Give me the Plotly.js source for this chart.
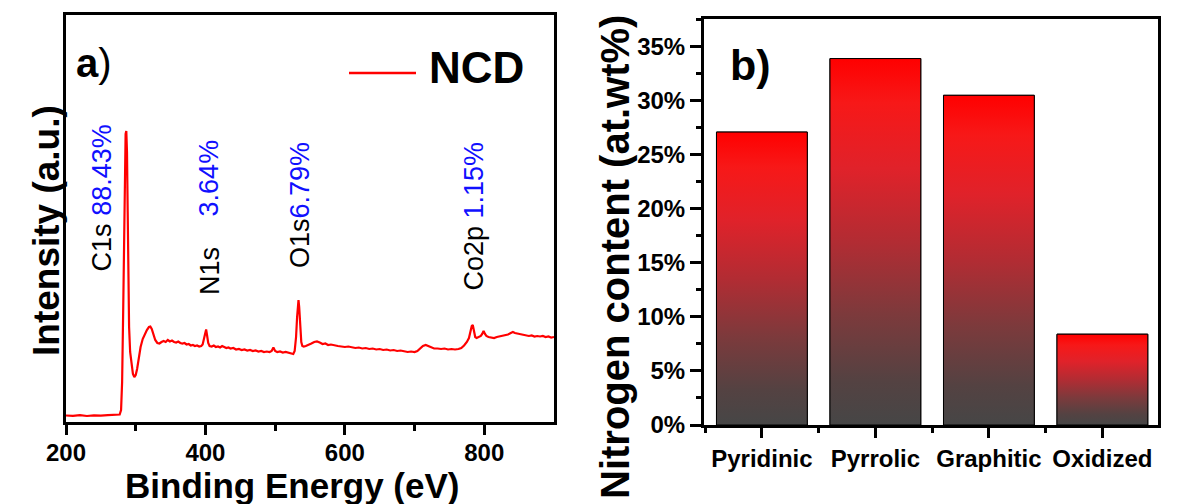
<!DOCTYPE html>
<html><head><meta charset="utf-8">
<script src="https://cdn.plot.ly/plotly-3.0.1.min.js"></script>
<style>html,body{margin:0;padding:0;background:#fff}#chart{width:1199px;height:504px}</style>
</head><body><div id="chart"></div>
<script>
const seriesName = 'NCD';
const bindingEnergy = [200,210,220,230,240,250,260,270,276,277,279,280.5,282,283.5,284.5,285.5,286.5,287.5,288.5,289.5,290.5,292,294,296,298,300,302,304,307,310,313,316,319,321,323,325,328,331,334,337,340,343,346,349,352,355,358,361,364,367,370,373,376,379,382,385,388,391,394,396,398,400,401,402.5,404,406,409,412,415,418,421,424,427,430,433,436,440,444,448,452,456,460,464,468,472,476,480,484,488,492,495,497.5,500,503,507,511,515,519,523,526,528,530,531.5,532.5,533.5,534.5,536,537.5,539,541,544,548,552,556,560,564,568,572,576,580,585,590,595,600,605,610,615,620,625,630,635,640,645,650,655,660,665,670,675,680,685,690,695,700,704,708,712,716,720,724,728,733,738,743,748,753,758,763,767,771,775,778,780,782,783.5,785,787,789,792,795,797,799,801,803,806,810,814,818,822,826,830,834,838,841,844,848,852,856,860,864,868,872,876,880,884,888,892,896,900];
const intensity = [6.5,6.2,6.8,6.0,6.6,6.3,6.9,7.0,7.3,7.5,12,40,110,200,260,288,291,270,210,140,95,70,55,48,45,47,53,63,75,83,88,92,95,95.5,93,88,82,79,78.5,80,81,80,82,80.5,81.5,80,79.5,80.5,79,78.5,79,77.5,78,76.5,77,76,76.5,75.5,76,77.5,83,91,92.5,86,79,76,75.5,76.5,75,75.5,74.5,76,75,74,74.5,73.5,74,72.5,73,72,72.5,71.5,72,71,71.5,70.5,71,70,70.5,70,71,74.5,71,70,70.5,69.5,70,69,68.5,68,71,85,105,118,122,115,90,80,76,75.5,76,77,78.5,80,80.5,79.5,78,78.5,77,77.5,76.5,76,75.5,75,75.5,74.5,74,74.5,73.5,74,73,73.5,72.5,73,72,72.5,71.5,72,71,71.5,70.5,70,70.5,70,71,73.5,76,77,76,74.5,73.5,73.5,73,73.5,72.5,73,72.5,73,74,76.5,80,84,90,96,97,91,85,84,85,86,88,91,88,86,85,84.5,84,85,85.5,86,86.5,87.5,89,90,89,88.5,88,87.5,87,86,86.5,85.5,86,85.5,86,85,85.5,84.5,85];
const peakNames = ['C1s','N1s','O1s','Co2p'];
const peakContents = ['88.43%','3.64%','6.79%','1.15%'];
const nitrogenTypes = ['Pyridinic','Pyrrolic','Graphitic','Oxidized'];
const nitrogenContent = [27.1, 33.9, 30.5, 8.4];
const xTitleA = 'Binding Energy (eV)';
const yTitleA = 'Intensity (a.u.)';
const yTitleB = 'Nitrogen content (at.wt%)';

const FONT = 'Liberation Sans, Arial, sans-serif';
const barHalf = 0.4;
const gradScale = [[0,'#464646'],[0.12,'#544242'],[0.3,'#7c3a3c'],[0.5,'#b22c33'],[0.7,'#e0222a'],[0.88,'#f71818'],[1,'#ff0000']];

const traces = [{
  type:'scatter', mode:'lines', name:seriesName, x:bindingEnergy, y:intensity,
  line:{color:'#ff0000', width:2.2}, xaxis:'x', yaxis:'y', showlegend:false
},{
  type:'bar', x:nitrogenTypes.map((_,i)=>i), y:nitrogenContent, width:barHalf*2,
  marker:{color:'#8a3236', line:{color:'#000', width:1}}, xaxis:'x2', yaxis:'y2', showlegend:false
}];
nitrogenContent.forEach((v,i)=>{
  traces.push({
    type:'scatter', mode:'lines', name:nitrogenTypes[i],
    x:[i-barHalf,i-barHalf,i+barHalf,i+barHalf,i-barHalf], y:[0,v,v,0,0],
    fill:'toself', fillgradient:{type:'vertical', colorscale:gradScale, start:0, stop:v},
    line:{color:'#000', width:1}, xaxis:'x2', yaxis:'y2', showlegend:false
  });
});

const tickFont = {family:FONT, size:24, color:'#000', weight:'bold'};
const BLUE = '#1010ff';
const namePos = [[251.5,149],[406.6,125],[535.7,152],[783.9,129]];
const annotations = [];
peakNames.forEach((n,i)=>{
  let txt;
  if (i===1) {
    txt = n;
    annotations.push({xref:'x', yref:'y', x:405, y:204, text:'<span style="color:'+BLUE+'">'+peakContents[i]+'</span>',
      showarrow:false, textangle:-90, xanchor:'center', yanchor:'bottom', font:{family:FONT, size:27, color:'#000'}});
  } else if (i===2) {
    txt = n + '<span style="color:'+BLUE+'">'+peakContents[i]+'</span>';
  } else {
    txt = n + ' <span style="color:'+BLUE+'">'+peakContents[i]+'</span>';
  }
  annotations.push({xref:'x', yref:'y', x:namePos[i][0], y:namePos[i][1], text:txt,
    showarrow:false, textangle:-90, xanchor:'center', yanchor:'bottom', font:{family:FONT, size:27, color:'#000'}});
});
annotations.push({xref:'paper', yref:'paper', x:74/1199, y:(504-63)/504, xanchor:'left', yanchor:'middle',
  text:'<b>a</b>)', showarrow:false, font:{family:FONT, size:40, color:'#000'}});
annotations.push({xref:'paper', yref:'paper', x:728/1199, y:(504-65)/504, xanchor:'left', yanchor:'middle',
  text:'b)', showarrow:false, font:{family:FONT, size:43, color:'#000', weight:'bold'}});
annotations.push({xref:'paper', yref:'paper', x:427/1199, y:(504-68)/504, xanchor:'left', yanchor:'middle',
  text:seriesName, showarrow:false, font:{family:FONT, size:44, color:'#000', weight:'bold'}});
annotations.push({xref:'paper', yref:'paper', x:46/1199, y:(504-231)/504, xanchor:'center', yanchor:'middle',
  text:yTitleA, textangle:-90, showarrow:false, font:{family:FONT, size:37, color:'#000', weight:'bold'}});
annotations.push({xref:'paper', yref:'paper', x:615/1199, y:(504-257)/504, xanchor:'center', yanchor:'middle',
  text:yTitleB, textangle:-90, showarrow:false, font:{family:FONT, size:40, color:'#000', weight:'bold'}});
annotations.push({xref:'paper', yref:'paper', x:292/1199, y:(504-485)/504, xanchor:'center', yanchor:'middle',
  text:xTitleA, showarrow:false, borderpad:0, font:{family:FONT, size:35, color:'#000', weight:'bold'}});

const layout = {
  width:1199, height:504, margin:{l:0,r:0,t:0,b:0},
  paper_bgcolor:'#fff', plot_bgcolor:'#fff', showlegend:false,
  xaxis:{domain:[66/1199,554/1199], range:[200,900], anchor:'y', showgrid:false, zeroline:false,
    showline:true, mirror:true, linecolor:'#000', linewidth:3,
    ticks:'outside', ticklen:10, tickwidth:3, tickcolor:'#000', ticklabelstandoff:-3,
    tickmode:'array', tickvals:[200,400,600,800], tickfont:tickFont,
    minor:{tickmode:'array', tickvals:[300,500,700], ticks:'outside', ticklen:6, tickwidth:3, tickcolor:'#000'}},
  yaxis:{domain:[(504-422)/504,(504-15)/504], range:[0,407], anchor:'x', showgrid:false, zeroline:false,
    showline:true, mirror:true, linecolor:'#000', linewidth:3, ticks:'', showticklabels:false},
  xaxis2:{domain:[704/1199,1158/1199], range:[-0.51,3.49], anchor:'y2', showgrid:false, zeroline:false,
    showline:true, mirror:true, linecolor:'#000', linewidth:3,
    ticks:'outside', ticklen:10, tickwidth:3, tickcolor:'#000',
    tickmode:'array', tickvals:nitrogenTypes.map((_,i)=>i), ticktext:nitrogenTypes, tickfont:tickFont,
    minor:{tickmode:'array', tickvals:[-0.5,0.5,1.5,2.5,3.5], ticks:'outside', ticklen:5, tickwidth:3, tickcolor:'#000'}},
  yaxis2:{domain:[(504-425)/504,(504-19)/504], range:[0,37.56], anchor:'x2', showgrid:false, zeroline:false,
    showline:true, mirror:true, linecolor:'#000', linewidth:3,
    ticks:'outside', ticklen:11, tickwidth:3, tickcolor:'#000', dtick:5, tick0:0, ticksuffix:'%', tickfont:tickFont,
    minor:{dtick:2.5, tick0:0, ticks:'outside', ticklen:5, tickwidth:3, tickcolor:'#000'}},
  shapes:[{type:'line', xref:'paper', yref:'paper', x0:349/1199, x1:416/1199, y0:(504-73)/504, y1:(504-73)/504,
    line:{color:'#ff0000', width:2.5}}],
  annotations:annotations
};
Plotly.newPlot('chart', traces, layout, {displayModeBar:false, staticPlot:true});
</script></body></html>
